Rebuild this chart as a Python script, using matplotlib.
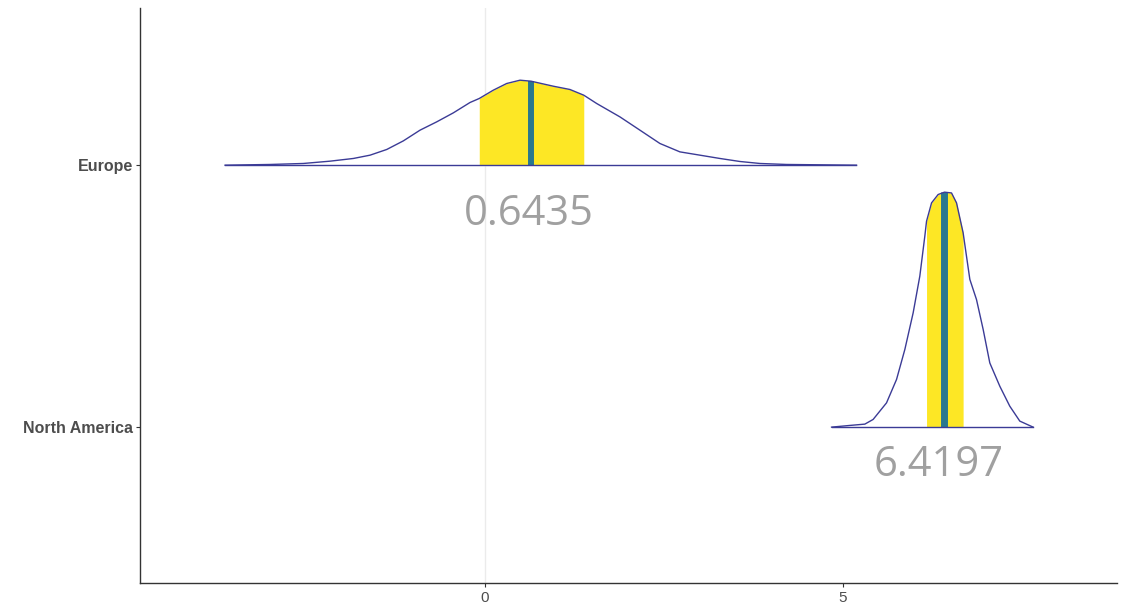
import matplotlib.pyplot as plt
import numpy as np

# ridge categories (bottom to top) and their medians
regions = ['North America', 'Europe']
medians = [6.4197, 0.6435]
# shaded interval (quantile band) per region
bands = [(6.169, 6.68), (-0.08, 1.38)]

# density outlines (x, height in ridge units)
na_x = [4.842, 5.098, 5.307, 5.423, 5.610, 5.750, 5.866, 5.982, 6.075, 6.145, 6.169,
        6.239, 6.331, 6.4197, 6.518, 6.588, 6.68, 6.774, 6.867, 6.960, 7.053, 7.193,
        7.332, 7.472, 7.658]
na_h = [0.0, 0.0065, 0.0115, 0.0294, 0.0927, 0.1821, 0.2966, 0.4363, 0.5763, 0.729,
        0.786, 0.856, 0.888, 0.897, 0.894, 0.856, 0.742, 0.564, 0.487, 0.373, 0.245,
        0.156, 0.080, 0.023, 0.0]

eu_x = [-3.631, -3.003, -2.538, -2.165, -1.839, -1.606, -1.373, -1.141, -0.908, -0.675,
        -0.443, -0.209, -0.08, 0.116, 0.303, 0.489, 0.6435, 0.954, 1.187, 1.38, 1.56,
        1.885, 2.165, 2.444, 2.723, 3.003, 3.282, 3.561, 3.841, 4.214, 5.19]
eu_h = [0.0, 0.0027, 0.0065, 0.0153, 0.0256, 0.0382, 0.0599, 0.0927, 0.1336, 0.1653,
        0.1996, 0.2393, 0.2546, 0.2863, 0.3118, 0.3244, 0.3206, 0.3015, 0.2889, 0.2672,
        0.2355, 0.1844, 0.1336, 0.0828, 0.0508, 0.0382, 0.0256, 0.0141, 0.0065, 0.0027,
        0.0]

curves = [(na_x, na_h), (eu_x, eu_h)]

line_col = '#3B3B96'
yellow = '#FDE725'
teal = '#2A788E'

fig = plt.figure(figsize=(11.32, 6.06), dpi=100)
ax = fig.add_axes([140 / 1132, 23 / 606, 977 / 1132, 575 / 606])

ax.axvline(0, color='#EBEBEB', lw=1.0, zorder=0)

for i, (xs, hs) in enumerate(curves):
    base = i + 1
    xs = np.array(xs)
    hs = np.array(hs)
    lo, hi = bands[i]
    ax.fill_between(xs, base, base + hs, color='white', zorder=1)
    ax.fill_between(xs, base, base + hs, where=(xs >= lo) & (xs <= hi),
                    color=yellow, lw=0, zorder=2)
    m = medians[i]
    mh = hs[np.argmin(np.abs(xs - m))]
    ax.plot([m, m], [base, base + mh], color=teal, lw=5.0 if i == 0 else 4.3,
            solid_capstyle='butt', zorder=3)
    ax.plot(xs, base + hs, color=line_col, lw=1.0, zorder=4, solid_joinstyle='round')
    ax.plot([xs[0], xs[-1]], [base, base], color=line_col, lw=1.0, zorder=4)

# median labels under each ridge
ax.text(medians[1] - 0.03, 2 - 0.186, f'{medians[1]:.4f}', ha='center', va='center',
        fontsize=30, color='#A0A0A0', family='Open Sans')
ax.text(medians[0] - 0.08, 1 - 0.145, f'{medians[0]:.4f}', ha='center', va='center',
        fontsize=30, color='#A0A0A0', family='Open Sans')

ax.set_xlim(-4.82, 8.83)
ax.set_ylim(0.405, 2.6)
ax.set_xticks([0, 5])
ax.set_yticks([1, 2])
ax.set_yticklabels(regions, fontweight='bold')

for s in ['top', 'right']:
    ax.spines[s].set_visible(False)
for s in ['left', 'bottom']:
    ax.spines[s].set_color('#333333')
    ax.spines[s].set_linewidth(1.0)

ax.tick_params(axis='both', length=3, color='#333333', labelcolor='#4D4D4D')
ax.tick_params(axis='y', labelsize=11.5, pad=2)
ax.tick_params(axis='x', labelsize=11, pad=3)
for lab in ax.get_yticklabels() + ax.get_xticklabels():
    lab.set_family('Liberation Sans')

plt.savefig('out.png', dpi=100)
